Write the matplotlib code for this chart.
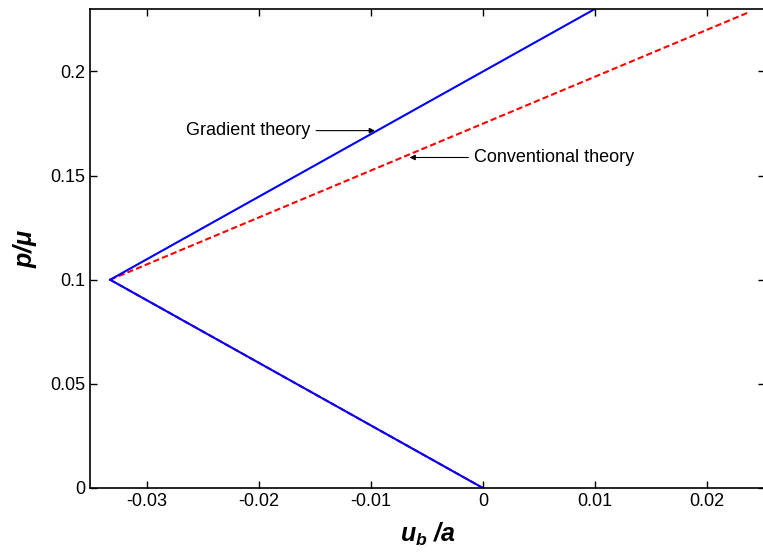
import matplotlib
matplotlib.use("Agg")
import matplotlib.pyplot as plt

plt.rcParams['font.family'] = ['Liberation Sans', 'DejaVu Sans']
plt.rcParams['mathtext.fontset'] = 'custom'
plt.rcParams['mathtext.it'] = 'Liberation Sans:bold:italic'
plt.rcParams['mathtext.rm'] = 'Liberation Sans:bold:italic'

# data
grad_upper_u = [-0.0333, 0.0100]
grad_upper_p = [0.1000, 0.2300]
grad_lower_u = [-0.0333, 0.0000]
grad_lower_p = [0.1000, 0.0000]
conv_upper_u = [-0.0333, 0.0237]
conv_upper_p = [0.1000, 0.2283]
conv_lower_u = [-0.0333, 0.0000]
conv_lower_p = [0.1000, 0.0000]

xticks = [-0.03, -0.02, -0.01, 0, 0.01, 0.02]
xticklabels = ['-0.03', '-0.02', '-0.01', '0', '0.01', '0.02']
yticks = [0, 0.05, 0.1, 0.15, 0.2]
yticklabels = ['0', '0.05', '0.1', '0.15', '0.2']

fig = plt.figure(figsize=(7.63, 5.53), dpi=100)
# right spine sits just off the picture, as in the reference
ax = fig.add_axes([90 / 763, 65 / 553, 675 / 763, 479 / 553])

# conventional theory (red dashed) under the gradient one
ax.plot(conv_upper_u, conv_upper_p, color='red', linestyle='--', dashes=(3, 1.5), linewidth=1.5)
ax.plot(conv_lower_u, conv_lower_p, color='red', linestyle='--', dashes=(3, 1.5), linewidth=1.5)
ax.plot(grad_upper_u, grad_upper_p, color='blue', linewidth=1.5)
ax.plot(grad_lower_u, grad_lower_p, color='blue', linewidth=1.5)

ax.annotate('Gradient theory', xy=(-0.0094, 0.1716), xytext=(-0.0265, 0.1716),
            fontsize=13, va='center', ha='left',
            arrowprops=dict(arrowstyle='-|>', color='black', lw=0.8, mutation_scale=8))
ax.annotate('Conventional theory', xy=(-0.0068, 0.1587), xytext=(-0.0008, 0.1587),
            fontsize=13, va='center', ha='left',
            arrowprops=dict(arrowstyle='-|>', color='black', lw=0.8, mutation_scale=8))

ax.set_xlim(-0.0351, 0.0252)
ax.set_ylim(0, 0.23)
ax.set_xticks(xticks)
ax.set_xticklabels(xticklabels)
ax.set_yticks(yticks)
ax.set_yticklabels(yticklabels)
ax.tick_params(direction='in', top=True, right=True, labelsize=13, length=5, width=1)
for s in ax.spines.values():
    s.set_linewidth(1.2)

ax.set_xlabel(r'$u_b$ /a', fontsize=18, fontweight='bold', fontstyle='italic', labelpad=8)
ax.set_ylabel(r'$p/\mu$', fontsize=18, fontweight='bold', fontstyle='italic', labelpad=8)

fig.savefig('out.png', dpi=100)
